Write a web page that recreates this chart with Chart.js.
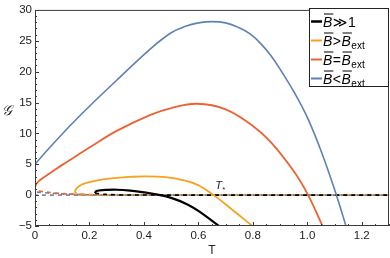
<!DOCTYPE html>
<html>
<head>
<meta charset="utf-8">
<script src="https://cdn.jsdelivr.net/npm/chart.js@4.4.1/dist/chart.umd.min.js"></script>
<style>
  html, body { margin: 0; padding: 0; background: #fff; }
</style>
</head>
<body>
<canvas id="myChart" width="390" height="258"></canvas>
<script>
// tick labels
const xTicks = [0, 0.2, 0.4, 0.6, 0.8, 1, 1.2]
const yTicks = [-5, 0, 5, 10, 15, 20, 25, 30]

// B >> 1  (black)
const tBig = [0.221, 0.222, 0.226, 0.235, 0.26, 0.3, 0.35, 0.4, 0.45, 0.5, 0.56, 0.608, 0.675]
const gBig = [0.3, 0.5, 0.65, 0.75, 0.84, 0.87, 0.72, 0.45, 0.08, -0.45, -1.5, -2.8, -5]
// B > Bext  (orange)
const tGt = [0.147, 0.148, 0.152, 0.16, 0.18, 0.22, 0.28, 0.35, 0.41, 0.48, 0.546, 0.6, 0.656, 0.72, 0.798]
const gGt = [0.35, 0.7, 1.05, 1.4, 1.85, 2.3, 2.7, 2.95, 3.05, 2.9, 2.4, 1.6, 0, -2.2, -5]
// B = Bext  (red)
const tEq = [0, 0.005, 0.015, 0.03, 0.06, 0.1, 0.15, 0.2, 0.3, 0.424, 0.5, 0.595, 0.7, 0.8, 0.866, 0.95, 1.003, 1.056]
const gEq = [1.3, 1.8, 2.3, 2.8, 3.7, 4.9, 6.3, 7.7, 10.4, 13.0, 14.1, 14.8, 13.9, 11.2, 8.6, 3.9, 0, -5]
// B < Bext  (blue)
const tLow = [0, 0.05, 0.1, 0.15, 0.2, 0.3, 0.424, 0.5, 0.55, 0.6, 0.65, 0.7, 0.75, 0.79, 0.83, 0.866, 0.9, 0.954, 1.0, 1.052, 1.107, 1.142]
const gLow = [5.0, 7.5, 9.9, 12.2, 14.4, 18.6, 23.7, 26.3, 27.3, 27.9, 28.1, 27.9, 27.1, 26.1, 24.5, 22.6, 20.4, 16.5, 12.6, 7.0, 0, -5]

// lower branches, dashed near zero
const tBigLow = [0.221, 0.26, 0.35, 1.3]
const gBigLow = [0.3, 0.12, 0.02, 0]
const tGtLow = [0.147, 0.2, 0.3, 1.3]
const gGtLow = [0.35, 0.12, 0.02, 0]
const tEqLow = [0, 0.05, 0.1, 0.15, 0.2, 0.3, 1.3]
const gEqLow = [0.75, 0.45, 0.25, 0.12, 0.05, 0, 0]
const tLowLow = [0, 0.05, 0.1, 0.2, 0.3, 1.3]
const gLowLow = [0.5, 0.35, 0.2, 0.05, 0, 0]
const tZero = [0, 1.3]
const gZero = [0, 0]

const legendRel = ['\u226B', '>', '=', '<']
const legendRhs = ['1', 'B', 'B', 'B']
const starLabel = { t: 0.68, g: 1.4 }

const colors = ['#000000', '#F7A21C', '#EC6235', '#5D81B5']

function pts(t, g) {
    return t.map((v, i) => ({ x: v, y: g[i] }))
}

function solid(t, g, color, w) {
    return { data: pts(t, g), borderColor: color, borderWidth: w, showLine: true, pointRadius: 0,
             tension: 0.4, fill: false }
}
function dashed(t, g, color, off) {
    return { data: pts(t, g), borderColor: color, borderWidth: 1.6, showLine: true, pointRadius: 0,
             tension: 0.3, borderDash: [4, 4], borderDashOffset: off, fill: false }
}

const framePlugin = {
    id: 'frame',
    afterDraw(chart) {
        const { ctx, chartArea: a, scales } = chart
        ctx.save()
        ctx.strokeStyle = '#3a3a3a'
        ctx.lineWidth = 1
        ctx.strokeRect(a.left + 0.5, a.top + 0.5, a.right - a.left - 1, a.bottom - a.top - 1)
        ctx.beginPath()
        for (let v = 0; v <= 1.3001; v += 0.05) {
            const px = Math.round(scales.x.getPixelForValue(v)) + 0.5
            const major = Math.abs(v * 5 - Math.round(v * 5)) < 1e-6
            ctx.moveTo(px, a.bottom)
            ctx.lineTo(px, a.bottom - (major ? 4 : 2))
        }
        for (let v = -5; v <= 30; v += 1) {
            const py = Math.round(scales.y.getPixelForValue(v)) + 0.5
            ctx.moveTo(a.left, py)
            ctx.lineTo(a.left + (v % 5 === 0 ? 4 : 2), py)
        }
        ctx.stroke()

        // axis titles
        ctx.fillStyle = '#222'
        ctx.textAlign = 'center'
        ctx.textBaseline = 'middle'
        ctx.font = 'italic 14px "Liberation Serif", "DejaVu Serif", serif'
        ctx.fillText('\uD835\uDCA2', 7, 111)
        ctx.font = '12px "Liberation Sans", Arial, sans-serif'
        ctx.fillText('T', (a.left + a.right) / 2, 251)

        // T* label
        const sx = scales.x.getPixelForValue(starLabel.t)
        const sy = scales.y.getPixelForValue(starLabel.g)
        ctx.textAlign = 'left'
        ctx.textBaseline = 'alphabetic'
        ctx.font = 'italic 11px "Liberation Sans", Arial, sans-serif'
        ctx.fillText('T', sx - 5, sy + 3)
        ctx.font = '8px "Liberation Sans", Arial, sans-serif'
        ctx.fillText('*', sx + 2, sy + 6)

        // legend
        const lx = 309.5, ly = 8.5, lw = 79, lh = 78
        ctx.fillStyle = '#fff'
        ctx.fillRect(lx, ly, lw, lh)
        ctx.strokeStyle = '#222'
        ctx.strokeRect(lx, ly, lw, lh)
        for (let i = 0; i < 4; i++) {
            const cy = 21.5 + i * 19
            ctx.strokeStyle = colors[i]
            ctx.lineWidth = i === 0 ? 2.5 : 2
            ctx.beginPath()
            ctx.moveTo(311, cy)
            ctx.lineTo(322, cy)
            ctx.stroke()
            let x = 323
            const base = cy + 5
            ctx.fillStyle = '#000'
            ctx.strokeStyle = '#000'
            ctx.lineWidth = 1
            // overlined italic B
            ctx.font = 'italic 14px "Liberation Sans", Arial, sans-serif'
            let w = ctx.measureText('B').width
            ctx.fillText('B', x, base)
            ctx.beginPath(); ctx.moveTo(x + 1, base - 12.5); ctx.lineTo(x + w + 1, base - 12.5); ctx.stroke()
            x += w + 0.5
            ctx.font = '14px "Liberation Sans", "DejaVu Sans", sans-serif'
            ctx.fillText(legendRel[i], x, base)
            x += ctx.measureText(legendRel[i]).width + 0.5
            if (legendRhs[i] === '1') {
                ctx.fillText('1', x, base)
            } else {
                ctx.font = 'italic 14px "Liberation Sans", Arial, sans-serif'
                w = ctx.measureText('B').width
                ctx.fillText('B', x, base)
                ctx.beginPath(); ctx.moveTo(x + 1, base - 12.5); ctx.lineTo(x + w + 1, base - 12.5); ctx.stroke()
                x += w + 0.5
                ctx.font = '10px "Liberation Sans", Arial, sans-serif'
                ctx.fillText('ext', x, base + 3)
            }
        }
        ctx.restore()
    }
}

const ctx = document.getElementById('myChart')
const myChart = new Chart(ctx, {
    type: 'scatter',
    data: {
        datasets: [
            solid(tBig, gBig, colors[0], 2.2),
            solid(tGt, gGt, colors[1], 1.8),
            solid(tEq, gEq, colors[2], 1.8),
            solid(tLow, gLow, colors[3], 1.6),
            dashed(tBigLow, gBigLow, colors[0], 0),
            dashed(tGtLow, gGtLow, colors[1], 2),
            dashed(tEqLow, gEqLow, colors[2], 4),
            dashed(tLowLow, gLowLow, colors[3], 6),
            dashed(tZero, gZero, '#8a8a8a', 1)
        ]
    },
    options: {
        responsive: false,
        animation: false,
        devicePixelRatio: 1,
        layout: { padding: { top: 5, right: 1, left: 0, bottom: 0 } },
        plugins: { legend: { display: false }, tooltip: { enabled: false } },
        scales: {
            x: {
                type: 'linear', min: 0, max: 1.3,
                grid: { display: false, drawTicks: false },
                border: { display: false },
                afterBuildTicks: s => { s.ticks = xTicks.map(v => ({ value: v })) },
                afterFit: s => { s.height = 32 },
                ticks: { padding: 3, color: '#222', maxRotation: 0,
                         font: { family: '"Liberation Sans", Arial, sans-serif', size: 11.5 } }
            },
            y: {
                type: 'linear', min: -5, max: 30,
                grid: { display: false, drawTicks: false },
                border: { display: false },
                afterBuildTicks: s => { s.ticks = yTicks.map(v => ({ value: v })) },
                afterFit: s => { s.width = 35 },
                ticks: { padding: 3, color: '#222',
                         callback: v => v < 0 ? '\u2212' + Math.abs(v) : String(v),
                         font: { family: '"Liberation Sans", Arial, sans-serif', size: 11.5 } }
            }
        }
    },
    plugins: [framePlugin]
});
</script>
</body>
</html>
